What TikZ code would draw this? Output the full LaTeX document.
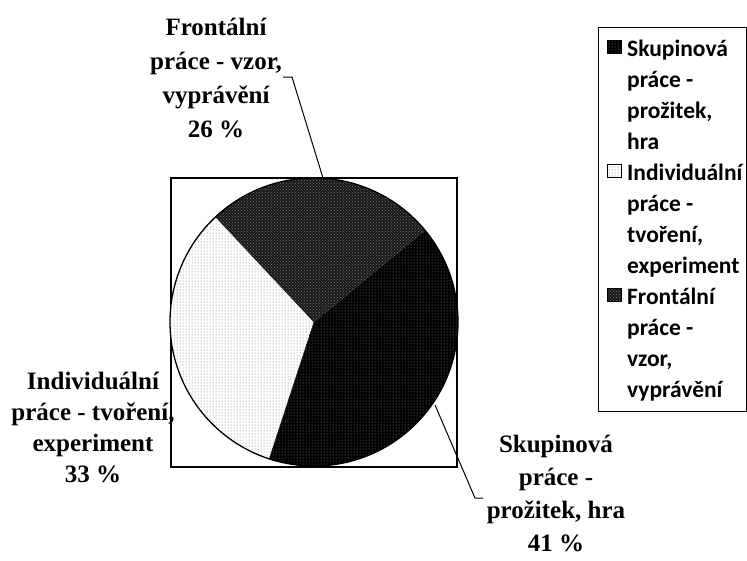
\documentclass[tikz,border=0pt]{standalone}
\usepackage{fontspec}
\setmainfont{Liberation Serif}
\newfontfamily\legfont{Carlito}
\usetikzlibrary{patterns}
\begin{document}
\begin{tikzpicture}[x=1pt,y=-1pt,
  lbl/.style={font=\bfseries\fontsize{25}{34}\selectfont, align=center, inner sep=0pt, anchor=north},
  leg/.style={font=\legfont\bfseries\fontsize{23.5}{31}\selectfont, align=left, inner sep=0pt, anchor=north west},
  swatch/.style={draw=black, line width=0.6pt, minimum width=14pt, minimum height=13pt, inner sep=0pt, anchor=north west},
  leader/.style={line width=1pt},
  skupfill/.style={fill=black},
  skuppat/.style={pattern=dots, pattern color=black!45},
  indfill/.style={fill=white},
  indpat/.style={pattern=dots, pattern color=black!55},
  frofill/.style={fill=black!90},
  fropat/.style={pattern=crosshatch dots, pattern color=black!55},
]
\useasboundingbox (0,0) rectangle (747,560);
\fill[white] (0,0) rectangle (747,560);

% plot area
\node[draw, line width=1.5pt, minimum width=286pt, minimum height=289pt, inner sep=0pt, anchor=north west] (plot) at (170,177) {};

% pie
\begin{scope}[shift={(314,322)}, y=1pt]
  \coordinate (c) at (0,0);
  % Skupinova
  \path[skupfill] (c) -- (-108.1:144) arc[start angle=-108.1, end angle=39.5, radius=144] -- cycle;
  \path[skuppat] (c) -- (-108.1:144) arc[start angle=-108.1, end angle=39.5, radius=144] -- cycle;
  % Frontalni
  \path[frofill] (c) -- (39.5:144) arc[start angle=39.5, end angle=133.1, radius=144] -- cycle;
  \path[fropat] (c) -- (39.5:144) arc[start angle=39.5, end angle=133.1, radius=144] -- cycle;
  % Individualni
  \path[indfill] (c) -- (133.1:144) arc[start angle=133.1, end angle=251.9, radius=144] -- cycle;
  \path[indpat] (c) -- (133.1:144) arc[start angle=133.1, end angle=251.9, radius=144] -- cycle;
  \draw[line width=0.5pt, black] (c) -- (133.1:144);
  \draw[line width=0.5pt, black] (c) -- (251.9:144);
  \draw[line width=1.3pt] (c) circle[radius=144];
\end{scope}

% labels
\node[lbl] (fro) at (216,18) {Frontální\\práce - vzor,\\vyprávění\\26 \%};
\node[lbl, font=\bfseries\fontsize{25}{31}\selectfont] (ind) at (93,372) {Individuální\\práce - tvoření,\\experiment\\33 \%};
\node[lbl, font=\bfseries\fontsize{25}{33}\selectfont] (skup) at (556,435) {Skupinová\\práce -\\prožitek, hra\\41 \%};

% leaders
\coordinate (froA) at (283,77);
\coordinate (froB) at (292,77);
\coordinate (froC) at (323,178);
\draw[leader] (froA) -- (froB) -- (froC);
\coordinate (skA) at (435,405);
\coordinate (skB) at (475,498);
\coordinate (skC) at (483,498);
\draw[leader] (skA) -- (skB) -- (skC);

% legend
\node[draw, line width=1.2pt, minimum width=148pt, minimum height=384pt, inner sep=0pt, anchor=north west] (legend) at (598,27) {};
\node[swatch, skupfill] (sw1) at (607,40) {};
\path[skuppat] (sw1.north west) rectangle (sw1.south east);
\draw[line width=0.6pt] (sw1.north west) rectangle (sw1.south east);
\node[swatch, indfill] (sw2) at (607,164) {};
\path[indpat] (sw2.north west) rectangle (sw2.south east);
\draw[line width=0.6pt] (sw2.north west) rectangle (sw2.south east);
\node[swatch, frofill] (sw3) at (607,288) {};
\path[fropat] (sw3.north west) rectangle (sw3.south east);
\draw[line width=0.6pt] (sw3.north west) rectangle (sw3.south east);
\node[leg] (leg1) at (627,40) {Skupinová\\práce -\\prožitek,\\hra};
\node[leg] (leg2) at (627,164) {Individuální\\práce -\\tvoření,\\experiment};
\node[leg] (leg3) at (627,288) {Frontální\\práce -\\vzor,\\vyprávění};
\end{tikzpicture}
\end{document}
